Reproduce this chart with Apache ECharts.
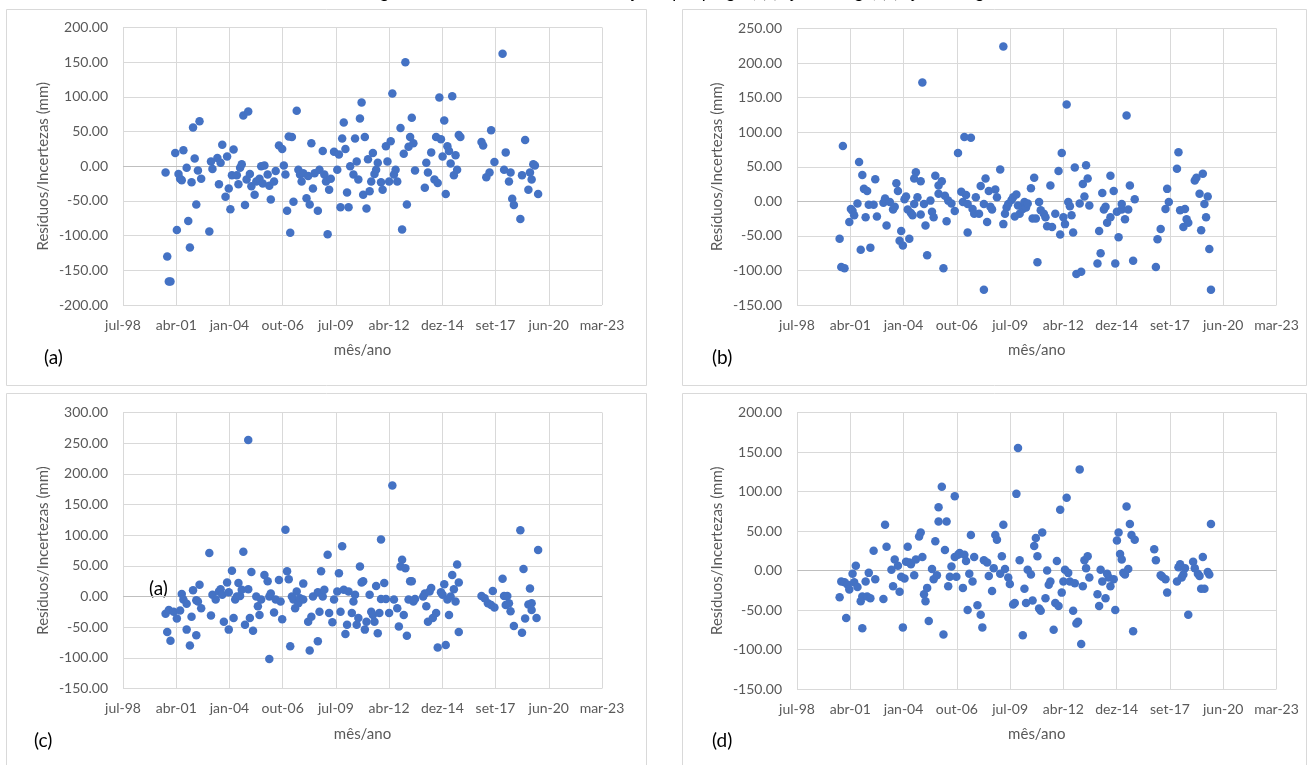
<!DOCTYPE html>
<html>
<head>
<meta charset="utf-8">
<script src="https://cdn.jsdelivr.net/npm/echarts@6/dist/echarts.min.js"></script>
<style>
html,body{margin:0;padding:0;background:#fff;}
#chart{width:1309px;height:765px;}
</style>
</head>
<body>
<div id="chart"></div>
<script>
// x: months since Jan/2000 ; y: residual/uncertainty (mm)
const pontosA = [[9,-9],[10,-130],[11,-166],[12,-166],[15,19],[16,-92],[17,-11],[18,-18],[19,-20],[20,23],[22,-2],[23,-79],[24,-117],[25,-23],[26,56],[27,11],[28,-55],[29,-6],[30,65],[31,-18],[36,-94],[37,7],[38,-4],[41,12],[42,-26],[43,5],[44,31],[46,-44],[47,14],[48,-32],[49,-62],[50,-13],[51,24],[53,-13],[54,-26],[55,-2],[56,3],[57,73],[58,-56],[59,-19],[60,79],[61,-11],[62,-29],[64,-41],[65,-22],[67,-18],[68,0],[69,-25],[70,1],[72,-12],[73,-28],[74,-48],[76,-22],[77,-7],[79,30],[81,25],[82,1],[83,-12],[84,-64],[85,43],[86,-96],[87,42],[88,-51],[90,80],[91,-5],[92,-12],[93,-22],[94,-10],[96,-46],[97,-14],[98,-55],[99,33],[100,-32],[101,-10],[103,-64],[104,-5],[106,22],[107,-12],[108,-22],[109,-98],[110,-34],[111,-18],[113,21],[115,-5],[116,17],[117,-59],[118,40],[119,63],[120,25],[121,-38],[122,-59],[123,0],[125,-12],[126,40],[127,7],[128,-19],[129,69],[130,92],[131,-41],[132,42],[133,-61],[134,10],[135,-36],[136,-22],[137,19],[138,-11],[139,-5],[140,5],[142,-23],[143,-34],[145,29],[146,7],[147,-22],[148,36],[149,105],[150,-12],[151,-5],[152,-22],[154,55],[155,-91],[156,18],[157,150],[158,-55],[159,28],[160,42],[161,70],[162,33],[163,-6],[169,-31],[170,5],[171,-9],[173,20],[175,-19],[176,42],[177,-24],[178,99],[179,39],[180,14],[181,66],[182,-40],[183,29],[184,22],[185,4],[186,101],[187,-13],[188,16],[189,-5],[190,45],[191,42],[204,35],[205,30],[207,-16],[209,-9],[210,52],[212,6],[217,162],[218,-5],[219,20],[221,-22],[222,-9],[223,-47],[224,-56],[228,-76],[229,-13],[231,38],[233,-34],[234,-9],[235,-19],[236,3],[237,1],[239,-40]];

const pontosB = [[9,-54],[10,-95],[11,80],[12,-97],[15,-30],[16,-11],[17,-14],[18,-20],[20,-3],[21,57],[22,-70],[23,38],[24,18],[25,-23],[26,15],[27,-5],[28,-67],[30,-5],[31,32],[32,-22],[36,-2],[37,4],[38,-35],[40,-1],[42,-12],[43,-8],[44,26],[45,15],[46,-57],[47,-43],[48,-64],[49,3],[50,7],[51,-12],[52,-54],[53,-17],[54,-20],[55,-4],[55,33],[56,42],[57,6],[59,-19],[59,29],[60,172],[61,-4],[62,-35],[63,-78],[65,1],[66,-15],[67,-23],[68,37],[70,23],[70,11],[72,29],[73,-97],[74,8],[75,-29],[76,1],[78,-3],[80,-14],[82,70],[84,14],[85,-1],[86,93],[87,9],[88,-45],[88,-4],[90,92],[91,-11],[92,-18],[93,6],[95,-18],[96,22],[98,-4],[98,-128],[99,33],[100,-30],[101,15],[102,-8],[103,-12],[105,17],[106,6],[108,46],[110,224],[110,-33],[111,-18],[112,-9],[113,-4],[115,2],[116,6],[117,-22],[118,10],[119,-6],[120,-18],[122,-11],[123,-1],[124,-9],[125,-3],[127,19],[129,34],[128,-25],[130,-25],[131,-88],[132,-1],[133,-13],[135,-18],[136,-23],[137,-36],[139,23],[140,-37],[142,-18],[144,44],[145,-48],[146,70],[147,-23],[148,-33],[149,140],[150,-1],[151,-7],[152,-20],[153,-45],[154,49],[155,-105],[157,-3],[158,-102],[159,25],[160,7],[161,52],[162,33],[163,-6],[168,-90],[169,-43],[170,-75],[171,12],[172,-12],[173,-8],[174,-31],[176,37],[176,-23],[178,15],[179,-90],[180,-15],[181,-52],[183,-12],[183,-4],[185,-26],[186,124],[187,-12],[188,23],[190,-86],[191,3],[204,-95],[205,-55],[207,-40],[210,-11],[211,18],[212,-1],[217,47],[218,71],[219,-13],[221,-37],[222,-11],[223,-26],[224,-31],[228,30],[229,34],[231,11],[232,-42],[233,40],[234,-4],[235,-23],[236,7],[237,-69],[238,-128]];

const pontosC = [[9,-28],[10,-58],[11,-22],[12,-72],[14,-25],[16,-36],[18,-23],[19,4],[20,-5],[22,-12],[22,-54],[24,-80],[25,-33],[26,10],[28,-6],[28,-63],[29,-8],[30,19],[31,-19],[36,71],[37,-31],[38,3],[40,-5],[42,8],[43,12],[44,3],[45,-41],[47,23],[48,-54],[48,7],[50,42],[51,-35],[52,-5],[53,0],[54,22],[55,1],[56,11],[57,73],[58,-46],[60,12],[60,255],[61,-35],[62,40],[63,-56],[65,0],[66,-16],[67,-30],[68,-5],[70,35],[72,25],[73,-102],[73,0],[74,5],[76,-26],[77,-5],[79,27],[80,-8],[81,-37],[83,109],[84,41],[85,28],[86,-81],[87,0],[88,-5],[89,-19],[90,8],[91,-11],[92,-3],[94,21],[94,-5],[97,-41],[98,-88],[99,-33],[100,0],[103,-73],[103,7],[104,-25],[105,41],[106,0],[107,11],[109,68],[110,-27],[112,-42],[113,-5],[115,8],[116,38],[117,-25],[118,82],[119,11],[120,-61],[121,-46],[122,8],[124,-27],[125,-8],[126,3],[127,-46],[128,-35],[129,49],[130,23],[131,25],[132,-54],[133,-41],[135,3],[136,-25],[137,-30],[138,-41],[139,17],[140,-60],[141,-27],[142,93],[142,-4],[144,22],[145,-4],[147,-27],[149,181],[150,-5],[152,-19],[153,-49],[154,49],[155,60],[156,-30],[157,46],[158,-64],[159,-5],[160,25],[161,25],[162,-8],[163,-4],[168,0],[169,5],[170,-16],[171,-41],[172,8],[173,14],[174,-35],[176,-27],[177,-83],[179,7],[180,3],[181,20],[182,-79],[183,-5],[184,-30],[185,0],[186,35],[187,12],[188,-8],[189,52],[190,-58],[190,23],[204,1],[206,-3],[208,-11],[210,-14],[211,9],[212,-18],[217,29],[218,1],[219,-14],[220,1],[221,-11],[222,-24],[224,-48],[228,108],[229,-59],[230,45],[231,-36],[233,-13],[234,13],[235,-11],[235,-22],[238,-35],[239,76]];

const pontosD = [[9,-34],[10,-14],[12,-15],[13,-60],[14,-18],[15,-24],[17,-4],[18,-15],[19,6],[20,-21],[22,-39],[23,-73],[23,-33],[25,-14],[26,-33],[27,-3],[28,-35],[30,25],[31,-11],[36,-36],[37,58],[38,30],[41,1],[42,-20],[43,14],[45,6],[46,-27],[47,-8],[48,-72],[49,-10],[50,11],[51,30],[52,10],[53,8],[55,-6],[56,14],[58,43],[59,48],[60,17],[61,-30],[62,-39],[63,-22],[64,-64],[66,2],[67,-11],[68,37],[69,-6],[70,62],[70,80],[72,106],[73,-81],[74,26],[75,62],[76,-20],[77,-8],[78,5],[80,17],[80,94],[81,-8],[82,20],[83,22],[85,-22],[86,20],[87,12],[88,-50],[89,-4],[90,45],[91,-14],[92,17],[94,-44],[96,-56],[97,-72],[98,13],[100,10],[101,-7],[103,-26],[104,3],[105,45],[106,39],[108,-4],[109,18],[110,58],[111,2],[113,-9],[114,-17],[116,-43],[117,-41],[118,97],[119,155],[120,13],[122,-82],[123,-23],[124,-41],[125,1],[127,-5],[128,-38],[129,31],[130,41],[131,18],[132,-48],[133,-51],[134,48],[136,-35],[137,0],[138,-18],[139,-14],[141,-75],[142,-41],[143,12],[144,-45],[145,77],[146,-28],[147,-14],[148,1],[149,92],[150,-3],[151,-14],[153,-51],[154,-16],[155,-67],[156,-65],[157,128],[158,-93],[159,-20],[160,13],[161,3],[162,18],[163,-9],[168,-30],[169,-45],[170,1],[171,-14],[173,-35],[174,-4],[175,-9],[176,-20],[178,-11],[179,-50],[180,38],[181,48],[182,21],[183,14],[184,-3],[185,-5],[186,81],[187,2],[188,59],[189,45],[190,-77],[191,39],[203,27],[204,13],[207,-6],[208,-8],[210,-11],[211,-28],[217,-14],[218,4],[219,8],[220,-9],[221,-5],[222,3],[224,-56],[227,11],[228,3],[230,-4],[231,-7],[232,-23],[233,17],[234,-23],[236,-2],[237,-5],[238,59]];

// axis settings (Excel date serials, major unit 1000 days)
const X_MIN = 36000, X_MAX = 45000, X_STEP = 1000;
const yRanges = [[-200, 200], [-150, 250], [-150, 300], [-150, 200]];
const Y_STEP = 50;
const MESES = ['jan','fev','mar','abr','mai','jun','jul','ago','set','out','nov','dez'];
const painelLabels = ['(a)', '(b)', '(c)', '(d)'];
const tituloY = 'Resíduos/Incertezas (mm)';
const tituloX = 'mês/ano';
const legenda = 'Figura 5 – Resíduos/Incertezas do ajuste por pregão, (a) ajuste longo, (b) ajuste longo';

const EPOCH = Date.UTC(1899, 11, 30);
function mesParaSerial(m) { return (Date.UTC(2000, m, 1) - EPOCH) / 86400000; }
function serialParaRotulo(v) {
  const d = new Date(EPOCH + v * 86400000);
  return MESES[d.getUTCMonth()] + '-' + String(d.getUTCFullYear()).slice(2);
}

const FONT = 'Lato, "Open Sans", sans-serif';
const GREY = '#595959';
const grids = [
  {left: 123, top: 27.5, width: 479, height: 277.5},
  {left: 797, top: 28.5, width: 479.5, height: 276.5},
  {left: 123, top: 412.5, width: 479, height: 276},
  {left: 797, top: 412.5, width: 479.5, height: 276.5}
];
const series = [pontosA, pontosB, pontosC, pontosD];

const option = {
  animation: false,
  backgroundColor: '#fff',
  textStyle: {fontFamily: FONT},
  grid: grids,
  xAxis: grids.map((g, i) => ({
    type: 'value', gridIndex: i, min: X_MIN, max: X_MAX, interval: X_STEP,
    name: tituloX, nameLocation: 'middle', nameGap: 38,
    nameTextStyle: {color: GREY, fontSize: 15, fontFamily: FONT},
    axisLine: {show: false}, axisTick: {show: false},
    axisLabel: {color: GREY, fontSize: 14, fontFamily: FONT, margin: 13, formatter: serialParaRotulo},
    splitLine: {show: true, lineStyle: {color: '#D9D9D9', width: 1}}
  })),
  yAxis: grids.map((g, i) => ({
    type: 'value', gridIndex: i, min: yRanges[i][0], max: yRanges[i][1], interval: Y_STEP,
    name: tituloY, nameLocation: 'middle', nameGap: 72,
    nameTextStyle: {color: GREY, fontSize: 15, fontFamily: FONT},
    axisLine: {show: false}, axisTick: {show: false},
    axisLabel: {color: GREY, fontSize: 14, fontFamily: FONT, margin: 15, formatter: v => v.toFixed(2)},
    splitLine: {show: true, lineStyle: {color: '#D9D9D9', width: 1}}
  })),
  series: series.map((pts, i) => ({
    type: 'scatter', xAxisIndex: i, yAxisIndex: i,
    symbol: 'circle', symbolSize: 8.5,
    itemStyle: {color: '#4472C4', opacity: 1},
    data: pts.map(p => [mesParaSerial(p[0]), p[1]]),
    markLine: {
      silent: true, symbol: 'none', label: {show: false},
      lineStyle: {color: '#BFBFBF', type: 'solid', width: 1},
      data: [{yAxis: 0}], z: 1
    }
  })),
  graphic: [
    {type: 'rect', shape: {x: 6.5, y: 9.5, width: 640, height: 376}, style: {fill: 'none', stroke: '#D9D9D9', lineWidth: 1}},
    {type: 'rect', shape: {x: 682.5, y: 9.5, width: 624, height: 376}, style: {fill: 'none', stroke: '#D9D9D9', lineWidth: 1}},
    {type: 'rect', shape: {x: 6.5, y: 393.5, width: 640, height: 400}, style: {fill: 'none', stroke: '#D9D9D9', lineWidth: 1}},
    {type: 'rect', shape: {x: 682.5, y: 393.5, width: 624, height: 400}, style: {fill: 'none', stroke: '#D9D9D9', lineWidth: 1}},
    {type: 'text', x: 44, y: 358, style: {text: painelLabels[0], fontSize: 19, fontFamily: FONT, fill: '#000', verticalAlign: 'middle'}},
    {type: 'text', x: 712, y: 358, style: {text: painelLabels[1], fontSize: 19, fontFamily: FONT, fill: '#000', verticalAlign: 'middle'}},
    {type: 'text', x: 34, y: 741, style: {text: painelLabels[2], fontSize: 19, fontFamily: FONT, fill: '#000', verticalAlign: 'middle'}},
    {type: 'text', x: 712, y: 741, style: {text: painelLabels[3], fontSize: 19, fontFamily: FONT, fill: '#000', verticalAlign: 'middle'}},
    {type: 'text', x: 149, y: 589, style: {text: '(a)', fontSize: 19, fontFamily: FONT, fill: '#000', verticalAlign: 'middle'}},
    {type: 'text', x: 680, y: -7.5, style: {text: legenda, fontSize: 17, fontFamily: FONT, fill: '#000', align: 'center', verticalAlign: 'middle'}}
  ]
};

const chart = echarts.init(document.getElementById('chart'), null, {renderer: 'canvas'});
chart.setOption(option);
</script>
</body>
</html>
